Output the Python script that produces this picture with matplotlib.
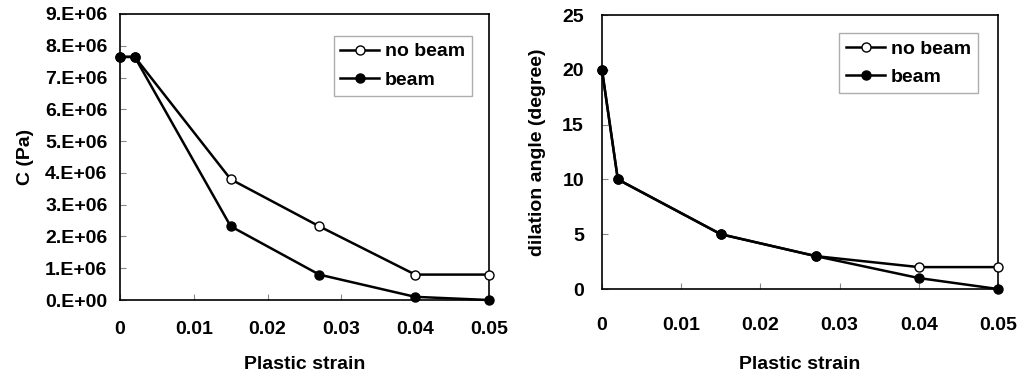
import matplotlib.pyplot as plt
from matplotlib.lines import Line2D

# data
strain = [0, 0.002, 0.015, 0.027, 0.04, 0.05]
c_no_beam = [7.65e6, 7.65e6, 3.8e6, 2.32e6, 0.8e6, 0.8e6]
c_beam = [7.65e6, 7.65e6, 2.32e6, 0.8e6, 0.1e6, 0.0]
dil_no_beam = [20, 10, 5, 3, 2, 2]
dil_beam = [20, 10, 5, 3, 1, 0]

x_ticks = [0, 0.01, 0.02, 0.03, 0.04, 0.05]
x_labels = ["0", "0.01", "0.02", "0.03", "0.04", "0.05"]
c_ticks = [i * 1e6 for i in range(10)]
c_labels = [f"{i}.E+0{6 if i else 0}" for i in range(10)]
dil_ticks = [0, 5, 10, 15, 20, 25]

plt.rcParams['font.family'] = ['Liberation Sans', 'DejaVu Sans']
plt.rcParams['font.weight'] = 'bold'
plt.rcParams['font.size'] = 14

fig = plt.figure(figsize=(10.21, 3.78), dpi=100)
ax1 = fig.add_axes([0.1175, 0.2063, 0.3614, 0.7567])
ax2 = fig.add_axes([0.5896, 0.2354, 0.3879, 0.7249])

line_kw = dict(color='black', lw=1.8, markersize=6.5)


def style(ax, yticks, ylabels, ymax, ylabel, xpad, xlabelpad, ypad, ylabelpad, leg_anchor):
    ax.set_xlim(0, 0.05)
    ax.set_ylim(0, ymax)
    ax.set_xticks(x_ticks)
    ax.set_xticklabels(x_labels, fontweight='bold')
    ax.set_yticks(yticks)
    ax.set_yticklabels(ylabels, fontweight='bold')
    ax.tick_params(direction='in', length=4, width=0.8, color='#888888')
    ax.tick_params(axis='x', pad=xpad)
    ax.tick_params(axis='y', pad=ypad)
    ax.set_xlabel("Plastic strain", fontweight='bold', labelpad=xlabelpad)
    ax.set_ylabel(ylabel, fontweight='bold', labelpad=ylabelpad)
    for s in ax.spines.values():
        s.set_linewidth(1.2)
    handles = [Line2D([], [], marker='o', mfc='white', mec='black', **line_kw),
               Line2D([], [], marker='o', mfc='black', mec='black', **line_kw)]
    leg = ax.legend(handles, ["no beam", "beam"], loc='upper right', bbox_to_anchor=leg_anchor,
                    fancybox=False, handlelength=2.0, handletextpad=0.3, borderpad=0.35,
                    labelspacing=0.55, borderaxespad=0, prop={'weight': 'bold', 'size': 14})
    leg.get_frame().set_edgecolor('#999999')
    leg.get_frame().set_linewidth(1.0)


ax1.plot(strain, c_no_beam, marker='o', mfc='white', mec='black', clip_on=False, zorder=3, **line_kw)
ax1.plot(strain, c_beam, marker='o', mfc='black', mec='black', clip_on=False, zorder=3, **line_kw)
style(ax1, c_ticks, c_labels, 9e6, "C (Pa)", 15, 13, 9, 8, (0.954, 0.923))

ax2.plot(strain, dil_no_beam, marker='o', mfc='white', mec='black', clip_on=False, zorder=3, **line_kw)
ax2.plot(strain, dil_beam, marker='o', mfc='black', mec='black', clip_on=False, zorder=3, **line_kw)
style(ax2, dil_ticks, [str(t) for t in dil_ticks], 25, "dilation angle (degree)", 20, 16, 13, 12, (0.949, 0.934))

fig.savefig("out.png", dpi=100)
